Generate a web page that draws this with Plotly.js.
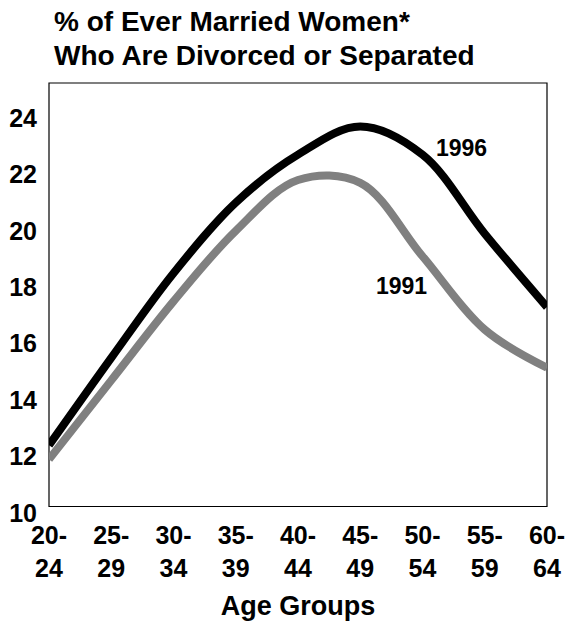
<!DOCTYPE html>
<html>
<head>
<meta charset="utf-8">
<script src="https://cdn.plot.ly/plotly-3.0.1.min.js"></script>
<style>html,body{margin:0;padding:0;background:#fff;}#chart{width:568px;height:623px;}</style>
</head>
<body>
<div id="chart"></div>
<script>
const categories = ["20-<br>24","25-<br>29","30-<br>34","35-<br>39","40-<br>44","45-<br>49","50-<br>54","55-<br>59","60-<br>64"];
const values1996 = [12.4, 15.5, 18.5, 21.0, 22.7, 23.7, 22.7, 19.9, 17.3];
const values1991 = [11.9, 14.7, 17.5, 20.0, 21.8, 21.7, 19.1, 16.5, 15.15];
const yTicks = [10, 12, 14, 16, 18, 20, 22, 24];
const titleLines = ["% of Ever Married Women*", "Who Are Divorced or Separated"];

const xIdx = categories.map((c, i) => i);
const F = "Liberation Sans, Arial, sans-serif";
const yMin = 10, yMax = 25.24, frameBottom = 10.23;
const FS = 25;

const traces = [
  {x: xIdx, y: values1991, type: "scatter", mode: "lines", name: "1991",
   line: {color: "#808080", width: 8, shape: "spline", smoothing: 1}, cliponaxis: false},
  {x: xIdx, y: values1996, type: "scatter", mode: "lines", name: "1996",
   line: {color: "#000000", width: 8, shape: "spline", smoothing: 1}, cliponaxis: false}
];

const plotH = 623 - 83 - 110;
const pyPaper = px => (623 - 110 - px) / plotH;

const layout = {
  width: 568, height: 623,
  margin: {l: 49, r: 21, t: 83, b: 110},
  paper_bgcolor: "#fff", plot_bgcolor: "#fff",
  showlegend: false,
  font: {family: F, color: "#000"},
  xaxis: {range: [0, categories.length - 1], tickmode: "array", tickvals: xIdx,
          ticktext: categories.map(c => "<b>" + c + "</b>"),
          showgrid: false, zeroline: false, showline: false, ticks: "",
          ticklabelstandoff: 5,
          tickfont: {family: F, size: FS, color: "#000"},
          title: {text: "<b>Age Groups</b>", font: {family: F, size: 27, color: "#000"}, standoff: 15}},
  yaxis: {range: [yMin, yMax], tickmode: "array", tickvals: yTicks,
          ticktext: yTicks.map(v => "<b>" + v + "</b>"),
          showgrid: false, zeroline: false, showline: false, ticks: "",
          ticklabelstandoff: 11,
          tickfont: {family: F, size: FS, color: "#000"}},
  shapes: [{type: "rect", xref: "paper", yref: "paper", x0: 0, x1: 1,
            y0: (frameBottom - yMin) / (yMax - yMin), y1: 1,
            line: {color: "#000", width: 1.2}, fillcolor: "rgba(0,0,0,0)", layer: "below"}],
  annotations: [
    {xref: "paper", yref: "paper", x: 0.006, y: pyPaper(21.5), xanchor: "left", yanchor: "middle",
     text: "<b>" + titleLines[0] + "</b>", showarrow: false, font: {family: F, size: 28, color: "#000"}},
    {xref: "paper", yref: "paper", x: 0.006, y: pyPaper(55.5), xanchor: "left", yanchor: "middle",
     text: "<b>" + titleLines[1] + "</b>", showarrow: false, font: {family: F, size: 28, color: "#000"}},
    {x: 6.63, y: 22.95, xref: "x", yref: "y", text: "<b>1996</b>", showarrow: false,
     font: {family: F, size: 23, color: "#000"}},
    {x: 5.66, y: 18.04, xref: "x", yref: "y", text: "<b>1991</b>", showarrow: false,
     font: {family: F, size: 23, color: "#000"}}
  ]
};

Plotly.newPlot("chart", traces, layout, {displayModeBar: false, staticPlot: true});
</script>
</body>
</html>
